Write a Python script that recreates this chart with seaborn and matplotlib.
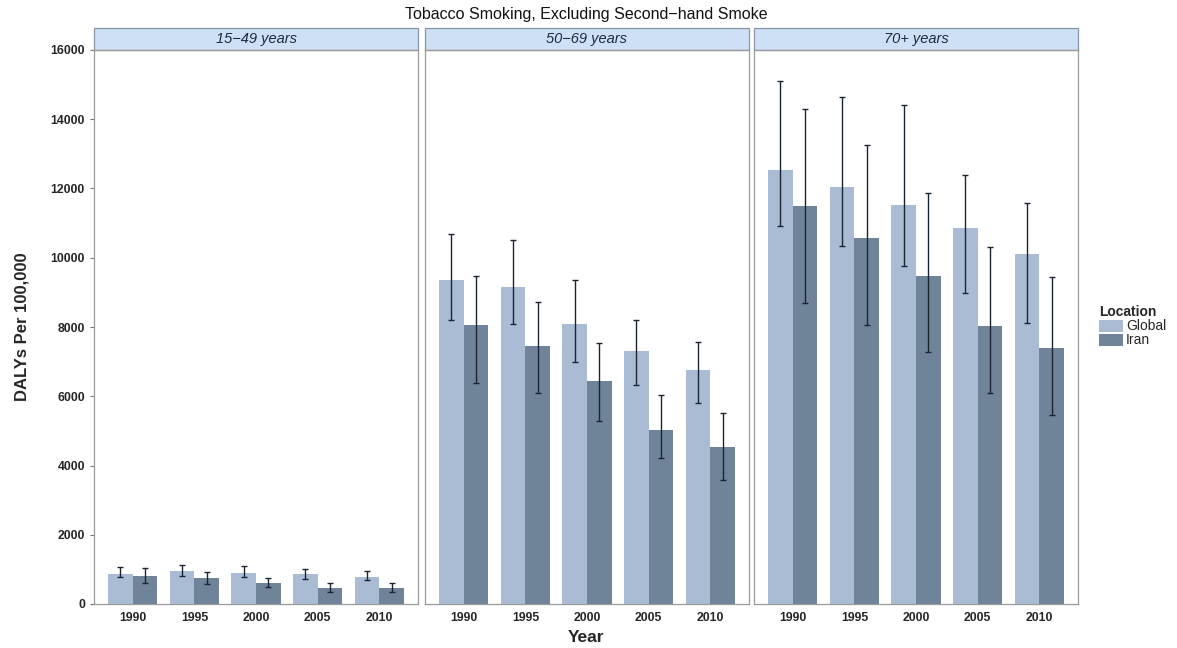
import numpy as np
import pandas as pd
import matplotlib
matplotlib.use("Agg")
import matplotlib.pyplot as plt
import matplotlib.patches as mpatches
import seaborn as sns

# Data
years = ["1990", "1995", "2000", "2005", "2010"]
age_groups = ["15-49 years", "50-69 years", "70+ years"]
locations = ["Global", "Iran"]

global_val = {"15-49 years": [880, 950, 890, 870, 790],
              "50-69 years": [9350, 9150, 8100, 7300, 6750],
              "70+ years": [12540, 12040, 11520, 10860, 10110]}
global_lo = {"15-49 years": [780, 810, 780, 720, 690],
             "50-69 years": [8200, 8090, 6990, 6320, 5800],
             "70+ years": [10920, 10340, 9760, 8980, 8120]}
global_hi = {"15-49 years": [1070, 1130, 1100, 1010, 950],
             "50-69 years": [10690, 10510, 9360, 8200, 7570],
             "70+ years": [15100, 14650, 14400, 12390, 11580]}
iran_val = {"15-49 years": [810, 750, 610, 460, 460],
            "50-69 years": [8050, 7450, 6450, 5030, 4530],
            "70+ years": [11490, 10570, 9470, 8030, 7390]}
iran_lo = {"15-49 years": [600, 580, 490, 350, 340],
           "50-69 years": [6380, 6090, 5290, 4220, 3580],
           "70+ years": [8690, 8060, 7280, 6100, 5450]}
iran_hi = {"15-49 years": [1040, 920, 750, 610, 610],
           "50-69 years": [9470, 8720, 7540, 6040, 5520],
           "70+ years": [14300, 13250, 11870, 10310, 9440]}

rows = []
for ag in age_groups:
    for i, y in enumerate(years):
        rows.append((ag, y, "Global", global_val[ag][i], global_lo[ag][i], global_hi[ag][i]))
        rows.append((ag, y, "Iran", iran_val[ag][i], iran_lo[ag][i], iran_hi[ag][i]))
df = pd.DataFrame(rows, columns=["age", "year", "location", "daly", "lo", "hi"])

palette = {"Global": "#a9bcd4", "Iran": "#6f8498"}

sns.set_style("white")
plt.rcParams["font.family"] = ["Liberation Sans", "DejaVu Sans"]

fig = plt.figure(figsize=(11.77, 6.48), dpi=100)
W, H = 1177, 648
lefts = [94, 425, 754]
pw = 324
bottom, top = 604, 50

for k, ag in enumerate(age_groups):
    ax = fig.add_axes([lefts[k] / W, 1 - bottom / H, pw / W, (bottom - top) / H])
    sub = df[df["age"] == ag]
    sns.barplot(data=sub, x="year", y="daly", hue="location", order=years,
                hue_order=locations, palette=palette, width=0.8, saturation=1,
                errorbar=None, legend=False, linewidth=0, ax=ax)
    # error bars placed on the bars seaborn drew
    bars = [p for p in ax.patches if p.get_height() > 0]
    for j, loc in enumerate(locations):
        s = sub[sub["location"] == loc].set_index("year").loc[years]
        for i, p in enumerate(bars[j * len(years):(j + 1) * len(years)]):
            xc = p.get_x() + p.get_width() / 2
            ax.errorbar(xc, s["daly"].iloc[i],
                        yerr=[[s["daly"].iloc[i] - s["lo"].iloc[i]],
                              [s["hi"].iloc[i] - s["daly"].iloc[i]]],
                        color="#1b2433", lw=1.0, capsize=2.2, capthick=1.0)
    ax.set_ylim(0, 16000)
    ax.set_xlim(-0.63, 4.63)
    ax.set_xlabel("")
    ax.set_ylabel("")
    for sp in ax.spines.values():
        sp.set_color("#9a9a9a")
        sp.set_linewidth(0.9)
    ax.tick_params(axis="x", length=3, color="#777777", labelsize=8.8, pad=3)
    for t in ax.get_xticklabels():
        t.set_fontweight("bold")
    ax.set_yticks(np.arange(0, 16001, 2000))
    if k == 0:
        ax.tick_params(axis="y", length=3, color="#777777", labelsize=8.8, left=True)
        for t in ax.get_yticklabels():
            t.set_fontweight("bold")
    else:
        ax.tick_params(axis="y", left=False, labelleft=False)
    # facet strip
    strip = mpatches.Rectangle((0, 1.0), 1, 22 / (bottom - top), transform=ax.transAxes,
                               facecolor="#cde0f6", edgecolor="#8a96a6", lw=0.9,
                               clip_on=False)
    ax.add_patch(strip)
    ax.text(0.5, 1.0 + 11 / (bottom - top), ag.replace("-", "\u2212"),
            transform=ax.transAxes, ha="center", va="center",
            fontsize=10.5, style="italic", color="#1c2a40")

fig.text(586 / W, 1 - 15 / H, "Tobacco Smoking, Excluding Second\u2212hand Smoke",
         ha="center", va="center", fontsize=11.5, color="#111111")
fig.text(22 / W, 1 - 327 / H, "DALYs Per 100,000", rotation=90, ha="center",
         va="center", fontsize=12, fontweight="bold")
fig.text(586 / W, 1 - 638 / H, "Year", ha="center", va="center",
         fontsize=12.5, fontweight="bold")

handles = [mpatches.Patch(facecolor=palette[l], edgecolor="none", label=l) for l in locations]
leg = fig.legend(handles=handles, title="Location", loc="upper left",
                 bbox_to_anchor=(1098 / W, 1 - 304 / H), frameon=False,
                 fontsize=10, title_fontsize=10, handlelength=1.7,
                 handleheight=0.95, handletextpad=0.2, labelspacing=0.0,
                 borderaxespad=0, borderpad=0.1)
leg.get_title().set_fontweight("bold")
leg._legend_box.align = "left"

fig.savefig("out.png", dpi=100)
